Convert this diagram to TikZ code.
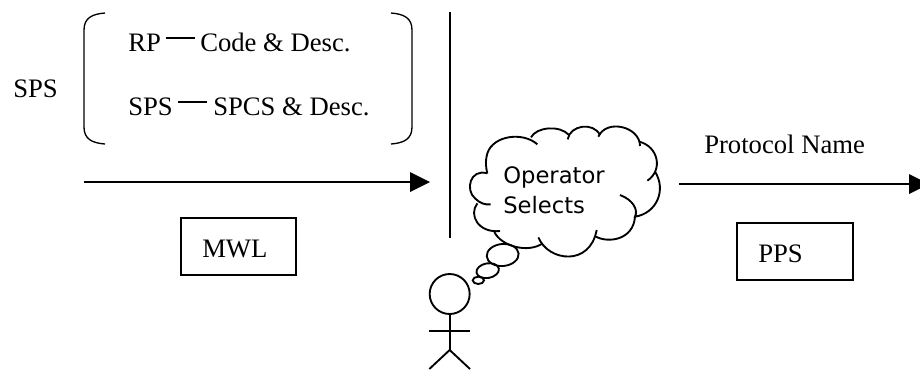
\documentclass[tikz,border=0pt]{standalone}
\usepackage{fontspec}
\setmainfont{Liberation Serif}
\newfontfamily\cloudfont{DejaVu Sans}
\tikzset{
  ln/.style={line width=1.5pt,black},
  thin ln/.style={line width=1pt,black},
  lbl/.style={inner sep=0pt,anchor=base west,font=\fontsize{20pt}{24pt}\selectfont},
  tag/.style={draw,line width=1.3pt,inner sep=0pt},
}
\begin{document}
\begin{tikzpicture}[x=0.75pt,y=-0.75pt]
\useasboundingbox (0,0) rectangle (920,369);
\clip (0,0) rectangle (920,369);
\node[lbl] (sps) at (13,97) {SPS};
\node[lbl] (rp) at (128,51) {RP};
\node[lbl] (cd) at (200,51) {Code \& Desc.};
\node[lbl] (s2) at (128,115) {SPS};
\node[lbl] (sc) at (213,115) {SPCS \& Desc.};
\draw[thin ln] (166,38) -- (195,38);
\draw[thin ln] (178,102) -- (207,102);
\coordinate (ltop) at (105,13); \coordinate (lbot) at (105,144);
\coordinate (rtop) at (391,13); \coordinate (rbot) at (391,144);
\draw[thin ln] (ltop) .. controls (92,14) and (84,18) .. (84,30) -- (84,127) .. controls (84,139) and (92,143) .. (lbot);
\draw[thin ln] (rtop) .. controls (404,14) and (412,18) .. (412,30) -- (412,127) .. controls (412,139) and (404,143) .. (rbot);
\coordinate (a1s) at (84,182); \coordinate (a1e) at (410,182);
\draw[ln] (a1s) -- (a1e);
\fill (410,172) -- (430,182) -- (410,192) -- cycle;
\coordinate (vt) at (450,12); \coordinate (vb) at (450,238);
\draw[ln] (vt) -- (vb);
\draw[tag] (181,218) rectangle (296,275);
\node[lbl] (mwl) at (202,257) {MWL};
\draw[tag] (737,223) rectangle (853,280);
\node[lbl] (ppst) at (758,262) {PPS};
\node[lbl] (pn) at (704,153) {Protocol Name};
\coordinate (a2s) at (679,184); \coordinate (a2e) at (910,184);
\draw[ln] (a2s) -- (a2e);
\fill (909,174) -- (929,184) -- (909,194) -- cycle;
\begin{scope}[shift={(400,120)},x=0.25pt,y=-0.25pt,line width=1.4pt]
\draw (262,160) .. controls (210,145) and (195,210) .. (225,235) .. controls (240,250) and (255,255) .. (272,253);
\draw (232,250) .. controls (205,285) and (235,340) .. (300,333);
\draw (283,336) .. controls (305,380) and (385,400) .. (428,370);
\draw (415,352) .. controls (445,425) and (570,440) .. (590,330);
\draw (588,350) .. controls (625,370) and (700,360) .. (705,290);
\draw (660,225) .. controls (700,240) and (715,270) .. (705,290) .. controls (770,280) and (800,210) .. (765,155);
\draw (742,182) .. controls (790,150) and (775,80) .. (718,65);
\draw (720,78) .. controls (720,20) and (620,-5) .. (595,50);
\draw (600,45) .. controls (580,5) and (510,15) .. (503,58);
\draw (507,45) .. controls (480,15) and (410,20) .. (393,52);
\draw (412,73) .. controls (370,35) and (280,45) .. (262,100) .. controls (255,125) and (258,145) .. (262,160);
\draw[rotate around={5:(308,405)}] (308,405) ellipse [x radius=48,y radius=33];
\draw[rotate around={10:(263,452)}] (263,452) ellipse [x radius=34,y radius=22];
\draw (235,481) ellipse [x radius=17,y radius=11];
\node[circle,draw,line width=1.4pt,minimum size=30pt,inner sep=0pt] (head) at (149,522) {};
\coordinate (hip) at (149,690);
\coordinate (al) at (88,632); \coordinate (ar) at (210,632);
\coordinate (ll) at (88,747); \coordinate (lr) at (210,747);
\draw (head.south) -- (hip);
\draw (al) -- (ar);
\draw (ll) -- (hip) -- (lr);
\end{scope}
\node[inner sep=0pt,anchor=base west,font=\cloudfont\fontsize{17pt}{20pt}\selectfont] (op) at (503,183) {Operator};
\node[inner sep=0pt,anchor=base west,font=\cloudfont\fontsize{17pt}{20pt}\selectfont] (se) at (503,213) {Selects};
\end{tikzpicture}
\end{document}
